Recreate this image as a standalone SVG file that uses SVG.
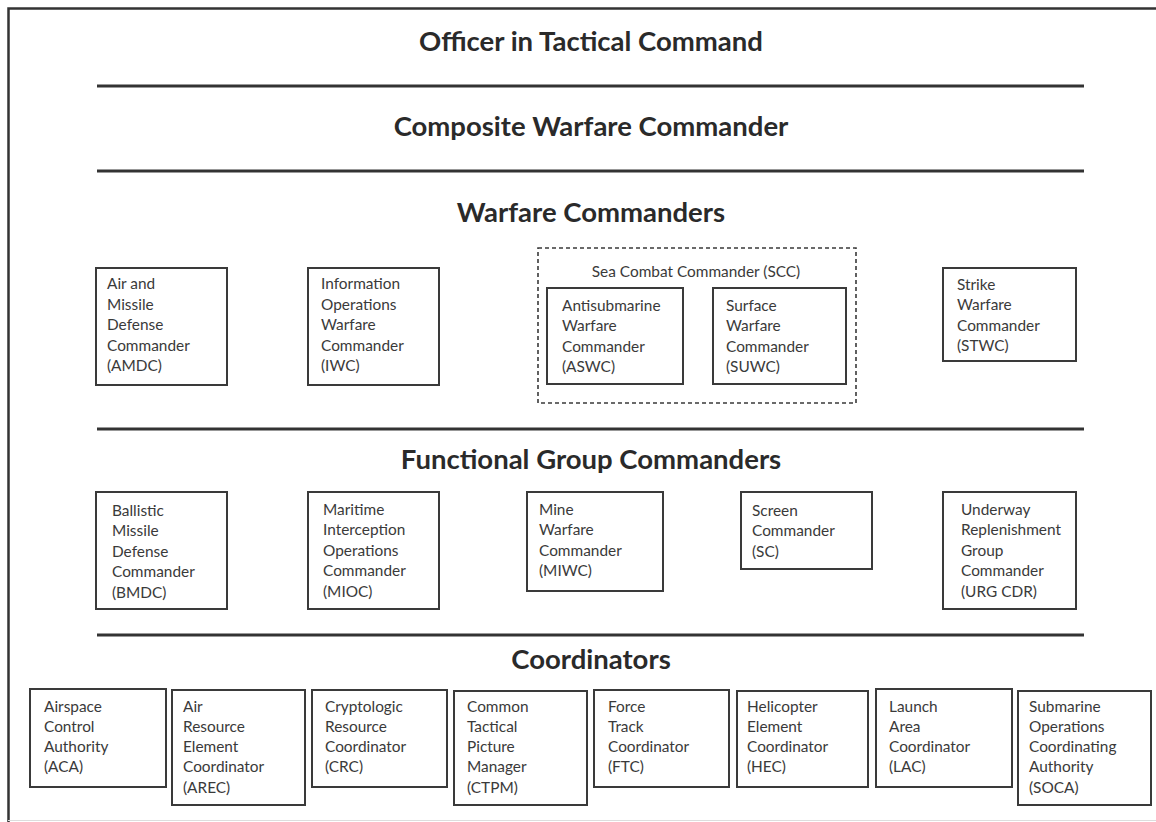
<svg xmlns="http://www.w3.org/2000/svg" width="1156" height="822" viewBox="0 0 1156 822">
<style>
.h{font-family:Lato,"Liberation Sans",sans-serif;font-weight:bold;font-size:27.5px;fill:#2a2a2a;text-anchor:middle}
.t{font-family:Lato,"Liberation Sans",sans-serif;font-size:15.4px;fill:#3a3a3a}
.b{fill:#fff;stroke:#3a3a3a;stroke-width:2}
.d{fill:none;stroke:#3a3a3a;stroke-width:1.6;stroke-dasharray:4 3}
.sep{stroke:#333;stroke-width:3}
</style>
<rect x="0" y="0" width="1156" height="822" fill="#fff"/>
<g id="frame">
<path d="M8.5,822 V8.5 H1156" fill="none" stroke="#333" stroke-width="2.5"/>
<line x1="8" y1="820.5" x2="1156" y2="820.5" stroke="#ddd" stroke-width="1"/>
</g>
<g id="separators">
<line class="sep" x1="97" y1="86" x2="1084" y2="86"/>
<line class="sep" x1="97" y1="171" x2="1084" y2="171"/>
<line class="sep" x1="97" y1="429" x2="1084" y2="429"/>
<line class="sep" x1="97" y1="635" x2="1084" y2="635"/>
</g>
<g id="headings">
<text id="otc" class="h" x="591" y="51">Officer in Tactical Command</text>
<text id="cwc" class="h" x="591" y="136">Composite Warfare Commander</text>
<text id="wc" class="h" x="591" y="222">Warfare Commanders</text>
<text id="fgc" class="h" x="591" y="469">Functional Group Commanders</text>
<text id="coord" class="h" x="591" y="669">Coordinators</text>
</g>
<g id="amdc"><rect class="b" x="96" y="268" width="131" height="117"/>
<text class="t" x="107" y="289.3"><tspan x="107">Air and</tspan><tspan x="107" dy="20.4">Missile</tspan><tspan x="107" dy="20.4">Defense</tspan><tspan x="107" dy="20.4">Commander</tspan><tspan x="107" dy="20.4">(AMDC)</tspan></text></g>
<g id="iwc"><rect class="b" x="308" y="268" width="131" height="117"/>
<text class="t" x="321" y="289.3"><tspan x="321">Information</tspan><tspan x="321" dy="20.4">Operations</tspan><tspan x="321" dy="20.4">Warfare</tspan><tspan x="321" dy="20.4">Commander</tspan><tspan x="321" dy="20.4">(IWC)</tspan></text></g>
<g id="scc"><rect class="d" x="538" y="248" width="318" height="155"/>
<text class="t" x="696" y="277" text-anchor="middle">Sea Combat Commander (SCC)</text></g>
<g id="aswc"><rect class="b" x="547" y="288" width="136" height="96"/>
<text class="t" x="562" y="311"><tspan x="562">Antisubmarine</tspan><tspan x="562" dy="20.4">Warfare</tspan><tspan x="562" dy="20.4">Commander</tspan><tspan x="562" dy="20.4">(ASWC)</tspan></text></g>
<g id="suwc"><rect class="b" x="713" y="288" width="133" height="96"/>
<text class="t" x="726" y="311"><tspan x="726">Surface</tspan><tspan x="726" dy="20.4">Warfare</tspan><tspan x="726" dy="20.4">Commander</tspan><tspan x="726" dy="20.4">(SUWC)</tspan></text></g>
<g id="stwc"><rect class="b" x="943" y="268" width="133" height="93"/>
<text class="t" x="957" y="290"><tspan x="957">Strike</tspan><tspan x="957" dy="20.4">Warfare</tspan><tspan x="957" dy="20.4">Commander</tspan><tspan x="957" dy="20.4">(STWC)</tspan></text></g>
<g id="bmdc"><rect class="b" x="96" y="492" width="131" height="117"/>
<text class="t" x="112" y="516"><tspan x="112">Ballistic</tspan><tspan x="112" dy="20.4">Missile</tspan><tspan x="112" dy="20.4">Defense</tspan><tspan x="112" dy="20.4">Commander</tspan><tspan x="112" dy="20.4">(BMDC)</tspan></text></g>
<g id="mioc"><rect class="b" x="308" y="492" width="131" height="117"/>
<text class="t" x="323" y="515"><tspan x="323">Maritime</tspan><tspan x="323" dy="20.4">Interception</tspan><tspan x="323" dy="20.4">Operations</tspan><tspan x="323" dy="20.4">Commander</tspan><tspan x="323" dy="20.4">(MIOC)</tspan></text></g>
<g id="miwc"><rect class="b" x="527" y="492" width="136" height="99"/>
<text class="t" x="539" y="515"><tspan x="539">Mine</tspan><tspan x="539" dy="20.4">Warfare</tspan><tspan x="539" dy="20.4">Commander</tspan><tspan x="539" dy="20.4">(MIWC)</tspan></text></g>
<g id="sc"><rect class="b" x="741" y="492" width="131" height="77"/>
<text class="t" x="752" y="516"><tspan x="752">Screen</tspan><tspan x="752" dy="20.4">Commander</tspan><tspan x="752" dy="20.4">(SC)</tspan></text></g>
<g id="urgcdr"><rect class="b" x="943" y="492" width="133" height="117"/>
<text class="t" x="961" y="515"><tspan x="961">Underway</tspan><tspan x="961" dy="20.4">Replenishment</tspan><tspan x="961" dy="20.4">Group</tspan><tspan x="961" dy="20.4">Commander</tspan><tspan x="961" dy="20.4">(URG CDR)</tspan></text></g>
<g id="aca"><rect class="b" x="30" y="689" width="136" height="98"/>
<text class="t" x="44" y="711.7"><tspan x="44">Airspace</tspan><tspan x="44" dy="20.2">Control</tspan><tspan x="44" dy="20.2">Authority</tspan><tspan x="44" dy="20.2">(ACA)</tspan></text></g>
<g id="arec"><rect class="b" x="172" y="690" width="133" height="115"/>
<text class="t" x="183" y="711.7"><tspan x="183">Air</tspan><tspan x="183" dy="20.2">Resource</tspan><tspan x="183" dy="20.2">Element</tspan><tspan x="183" dy="20.2">Coordinator</tspan><tspan x="183" dy="20.2">(AREC)</tspan></text></g>
<g id="crc"><rect class="b" x="312" y="690" width="135" height="97"/>
<text class="t" x="325" y="711.7"><tspan x="325">Cryptologic</tspan><tspan x="325" dy="20.2">Resource</tspan><tspan x="325" dy="20.2">Coordinator</tspan><tspan x="325" dy="20.2">(CRC)</tspan></text></g>
<g id="ctpm"><rect class="b" x="454" y="691" width="133" height="114"/>
<text class="t" x="467" y="711.7"><tspan x="467">Common</tspan><tspan x="467" dy="20.2">Tactical</tspan><tspan x="467" dy="20.2">Picture</tspan><tspan x="467" dy="20.2">Manager</tspan><tspan x="467" dy="20.2">(CTPM)</tspan></text></g>
<g id="ftc"><rect class="b" x="594" y="690" width="135" height="97"/>
<text class="t" x="608" y="711.7"><tspan x="608">Force</tspan><tspan x="608" dy="20.2">Track</tspan><tspan x="608" dy="20.2">Coordinator</tspan><tspan x="608" dy="20.2">(FTC)</tspan></text></g>
<g id="hec"><rect class="b" x="737" y="691" width="131" height="96"/>
<text class="t" x="747" y="711.7"><tspan x="747">Helicopter</tspan><tspan x="747" dy="20.2">Element</tspan><tspan x="747" dy="20.2">Coordinator</tspan><tspan x="747" dy="20.2">(HEC)</tspan></text></g>
<g id="lac"><rect class="b" x="876" y="689" width="136" height="98"/>
<text class="t" x="889" y="711.7"><tspan x="889">Launch</tspan><tspan x="889" dy="20.2">Area</tspan><tspan x="889" dy="20.2">Coordinator</tspan><tspan x="889" dy="20.2">(LAC)</tspan></text></g>
<g id="soca"><rect class="b" x="1018" y="691" width="133" height="114"/>
<text class="t" x="1029" y="711.7"><tspan x="1029">Submarine</tspan><tspan x="1029" dy="20.2">Operations</tspan><tspan x="1029" dy="20.2">Coordinating</tspan><tspan x="1029" dy="20.2">Authority</tspan><tspan x="1029" dy="20.2">(SOCA)</tspan></text></g>
</svg>
